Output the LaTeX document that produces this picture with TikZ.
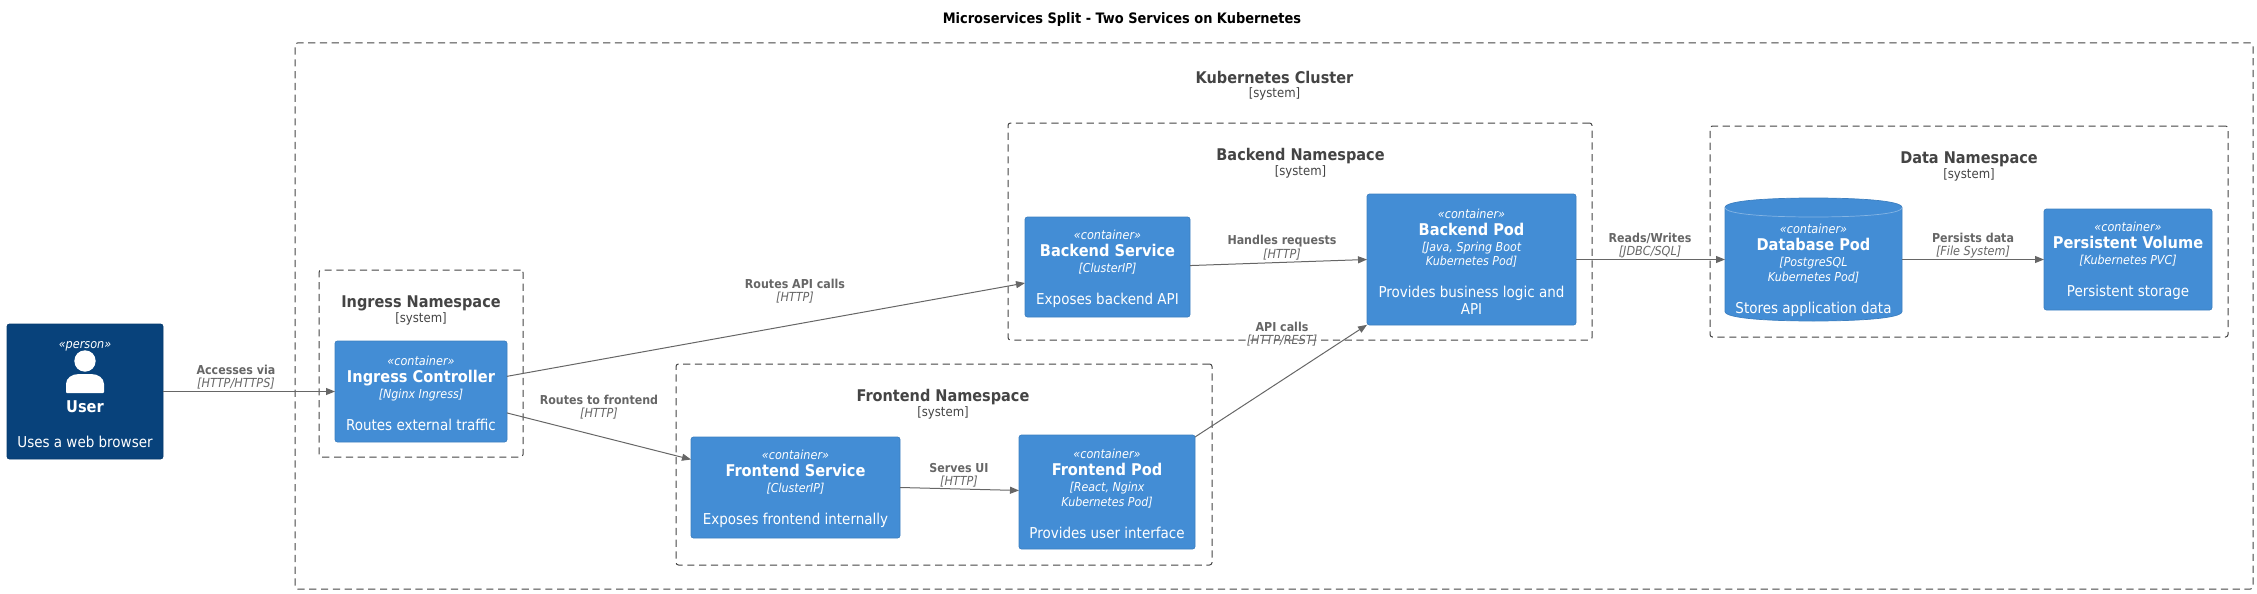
\documentclass[tikz,border=0pt]{standalone}
\usepackage{fontspec}
\setmainfont{DejaVu Sans Condensed}
\usetikzlibrary{arrows.meta}
\definecolor{contblue}{HTML}{438DD5}
\definecolor{contedge}{HTML}{3C7FC0}
\definecolor{persblue}{HTML}{08427B}
\definecolor{persedge}{HTML}{073B6F}
\definecolor{nsgrey}{HTML}{444444}
\definecolor{relgrey}{HTML}{666666}
\setlength\normallineskiplimit{-100pt}
\lineskiplimit=-100pt
\newcommand\stereoT[1]{\rule{0pt}{13pt}{\fontsize{12.5}{14.5}\itshape\selectfont «#1»}}
\newcommand\nameT[1]{{\fontsize{16.2}{14.5}\bfseries\selectfont #1}}
\newcommand\techT[1]{{\fontsize{12.3}{14.5}\itshape\selectfont #1}}
\newcommand\descT[1]{{\fontsize{15}{14.5}\selectfont #1}}
\tikzset{
  every node/.style={inner sep=0pt,outer sep=0pt},
  boundary/.style={draw=nsgrey,line width=1pt,rounded corners=2.5pt,dash pattern=on 7.2pt off 4.6pt},
  boxtext/.style={text=white,align=center,font=\fontsize{14}{14.5}\selectfont},
  container/.style={boxtext,draw=contedge,fill=contblue,line width=0.7pt,rounded corners=2.5pt},
  person/.style={boxtext,draw=persedge,fill=persblue,line width=0.7pt,rounded corners=2.5pt},
  nstitle/.style={text=nsgrey,font=\fontsize{16.1}{20}\bfseries\selectfont},
  nssys/.style={text=nsgrey,font=\fontsize{13}{14}\selectfont},
  rellabel/.style={text=relgrey,font=\fontsize{12.3}{14}\bfseries\selectfont},
  reltech/.style={text=relgrey,font=\fontsize{12.5}{14}\itshape\selectfont},
  rel/.style={draw=relgrey,line width=1pt,-{Triangle[length=9pt,width=7pt]}}
}
\begin{document}
\begin{tikzpicture}[x=1pt,y=-1pt]
\useasboundingbox (0,0) rectangle (2257,594);
\node[font=\fontsize{14.4}{16}\bfseries\selectfont,text=black] (title) at (1122,20) {Microservices Split - Two Services on Kubernetes};
% boundaries
\node[boundary,minimum width=1958pt,minimum height=546pt] (cluster) at (1274,316) {};
\node[boundary,minimum width=204pt,minimum height=187pt] (ingressns) at (421,363.5) {};
\node[boundary,minimum width=536pt,minimum height=201pt] (frontendns) at (944,464.5) {};
\node[boundary,minimum width=584pt,minimum height=217pt] (backendns) at (1300,231.5) {};
\node[boundary,minimum width=518pt,minimum height=211pt] (datans) at (1969,231.5) {};
\node[nstitle] (clustert) at (1274.5,77) {Kubernetes Cluster};
\node[nssys] (clusters) at (1274.5,94) {[system]};
\node[nstitle] (ingresst) at (421,303.5) {Ingress Namespace};
\node[nssys] (ingresss) at (421,319) {[system]};
\node[nstitle] (frontendt) at (943,397.5) {Frontend Namespace};
\node[nssys] (frontends) at (943,413) {[system]};
\node[nstitle] (backendt) at (1300.5,156.5) {Backend Namespace};
\node[nssys] (backends) at (1300.5,172) {[system]};
\node[nstitle] (datat) at (1969,159.5) {Data Namespace};
\node[nssys] (datas) at (1969,175) {[system]};
% boxes
\node[person,minimum width=156pt,minimum height=135pt] (user) at (85,391.5) {\stereoT{person}\\[49pt]\nameT{User}\\[20.5pt]\descT{Uses a web browser}};
\fill[white] (85,361) circle (10.7pt);
\fill[white,rounded corners=1pt] (66,393) -- (66,385) .. controls (66,378) and (72,374) .. (80,374) -- (90,374) .. controls (98,374) and (104,378) .. (104,385) -- (104,393) -- cycle;
\node[container,minimum width=172pt,minimum height=101pt] (ingress) at (421,391.5) {\stereoT{container}\\[2.5pt]\nameT{Ingress Controller}\\[1.5pt]\techT{[Nginx Ingress]}\\[17.5pt]\descT{Routes external traffic}};
\node[container,minimum width=209pt,minimum height=101pt] (fsvc) at (795.5,487.5) {\stereoT{container}\\[2.5pt]\nameT{Frontend Service}\\[1.5pt]\techT{[ClusterIP]}\\[17.5pt]\descT{Exposes frontend internally}};
\node[container,minimum width=176pt,minimum height=114pt] (fpod) at (1107,492) {\stereoT{container}\\[2.5pt]\nameT{Frontend Pod}\\[1.5pt]\techT{[React, Nginx}\\\techT{Kubernetes Pod]}\\[17.5pt]\descT{Provides user interface}};
\node[container,minimum width=165pt,minimum height=100pt] (bsvc) at (1107.5,267) {\stereoT{container}\\[2.5pt]\nameT{Backend Service}\\[1.5pt]\techT{[ClusterIP]}\\[17.5pt]\descT{Exposes backend API}};
\node[container,minimum width=209pt,minimum height=131pt] (bpod) at (1471.5,259.5) {\stereoT{container}\\[2.5pt]\nameT{Backend Pod}\\[1.5pt]\techT{[Java, Spring Boot}\\\techT{Kubernetes Pod]}\\[17.5pt]\descT{Provides business logic and}\\[2pt]\descT{API}};
\node[container,minimum width=168pt,minimum height=101pt] (pv) at (2128,259.5) {\stereoT{container}\\[2.5pt]\nameT{Persistent Volume}\\[1.5pt]\techT{[Kubernetes PVC]}\\[17.5pt]\descT{Persistent storage}};
% database
\node[minimum width=177pt,minimum height=123pt] (db) at (1813.5,259.5) {};
\path[draw=contedge,fill=contblue,line width=0.7pt] (1725,207.5)
  .. controls (1725,200.5) and (1770,198) .. (1813.5,198)
  .. controls (1857,198) and (1902,200.5) .. (1902,207.5)
  -- (1902,311.5)
  .. controls (1902,318.5) and (1857,321) .. (1813.5,321)
  .. controls (1770,321) and (1725,318.5) .. (1725,311.5) -- cycle;
\draw[white,opacity=.35,line width=0.7pt] (1725,207.5) .. controls (1725,214.5) and (1770,217) .. (1813.5,217) .. controls (1857,217) and (1902,214.5) .. (1902,207.5);
\node[boxtext] (dbtext) at (1813.5,268.5) {\stereoT{container}\\[2.5pt]\nameT{Database Pod}\\[1.5pt]\techT{[PostgreSQL}\\\techT{Kubernetes Pod]}\\[17.5pt]\descT{Stores application data}};
% connectors
\draw[rel] (user.east) -- (ingress.west);
\draw[rel] (ingress.10) -- (bsvc.191);
\draw[rel] (ingress.-14) -- (fsvc.165.3);
\draw[rel] (fsvc.-0.4) -- (fpod.179.4);
\draw[rel] (bsvc.1.4) -- (bpod.180.8);
\draw[rel] (fpod.32.5) -- (bpod.212.8);
\draw[rel] (bpod.east) -- (db.west);
\draw[rel] (db.east) -- (pv.west);
% labels
\node[rellabel] (l1) at (236,370) {Accesses via};
\node[reltech] (t1) at (236,384) {[HTTP/HTTPS]};
\node[rellabel] (l2) at (795,284) {Routes API calls};
\node[reltech] (t2) at (795,298) {[HTTP]};
\node[rellabel] (l3) at (599,400) {Routes to frontend};
\node[reltech] (t3) at (599,414) {[HTTP]};
\node[rellabel] (l4) at (959,468) {Serves UI};
\node[reltech] (t4) at (959,482) {[HTTP]};
\node[rellabel] (l5) at (1282,241) {Handles requests};
\node[reltech] (t5) at (1282,255) {[HTTP]};
\node[rellabel] (l6) at (1282,327) {API calls};
\node[reltech] (t6) at (1282,341) {[HTTP/REST]};
\node[rellabel] (l7) at (1650,238) {Reads/Writes};
\node[reltech] (t7) at (1650,252) {[JDBC/SQL]};
\node[rellabel] (l8) at (1973,238) {Persists data};
\node[reltech] (t8) at (1973,252) {[File System]};
\end{tikzpicture}
\end{document}
